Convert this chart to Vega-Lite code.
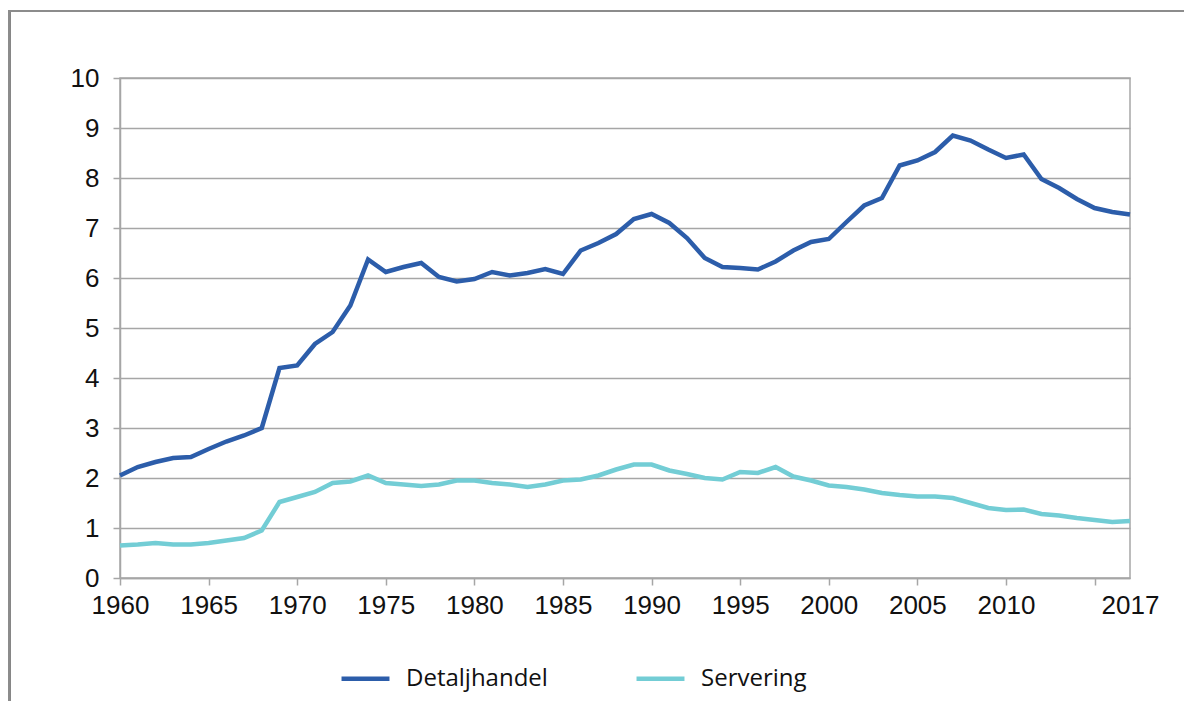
{
  "$schema": "https://vega.github.io/schema/vega-lite/v6.json",
  "width": 1010,
  "height": 500,
  "autosize": {"type": "none"},
  "padding": {"left": 120, "top": 78, "right": 54, "bottom": 123},
  "background": "white",
  "config": {
    "view": {"stroke": "#A6A6A6", "strokeWidth": 1.5}
  },
  "data": {"values": [
    {"year":1960,"series":"Detaljhandel","value":2.05},{"year":1961,"series":"Detaljhandel","value":2.22},{"year":1962,"series":"Detaljhandel","value":2.32},{"year":1963,"series":"Detaljhandel","value":2.4},{"year":1964,"series":"Detaljhandel","value":2.42},{"year":1965,"series":"Detaljhandel","value":2.58},{"year":1966,"series":"Detaljhandel","value":2.73},{"year":1967,"series":"Detaljhandel","value":2.85},{"year":1968,"series":"Detaljhandel","value":3.0},{"year":1969,"series":"Detaljhandel","value":4.2},
    {"year":1970,"series":"Detaljhandel","value":4.25},{"year":1971,"series":"Detaljhandel","value":4.68},{"year":1972,"series":"Detaljhandel","value":4.92},{"year":1973,"series":"Detaljhandel","value":5.45},{"year":1974,"series":"Detaljhandel","value":6.37},{"year":1975,"series":"Detaljhandel","value":6.12},{"year":1976,"series":"Detaljhandel","value":6.22},{"year":1977,"series":"Detaljhandel","value":6.3},{"year":1978,"series":"Detaljhandel","value":6.02},{"year":1979,"series":"Detaljhandel","value":5.93},
    {"year":1980,"series":"Detaljhandel","value":5.98},{"year":1981,"series":"Detaljhandel","value":6.12},{"year":1982,"series":"Detaljhandel","value":6.05},{"year":1983,"series":"Detaljhandel","value":6.1},{"year":1984,"series":"Detaljhandel","value":6.18},{"year":1985,"series":"Detaljhandel","value":6.08},{"year":1986,"series":"Detaljhandel","value":6.55},{"year":1987,"series":"Detaljhandel","value":6.7},{"year":1988,"series":"Detaljhandel","value":6.88},{"year":1989,"series":"Detaljhandel","value":7.18},
    {"year":1990,"series":"Detaljhandel","value":7.28},{"year":1991,"series":"Detaljhandel","value":7.1},{"year":1992,"series":"Detaljhandel","value":6.8},{"year":1993,"series":"Detaljhandel","value":6.4},{"year":1994,"series":"Detaljhandel","value":6.22},{"year":1995,"series":"Detaljhandel","value":6.2},{"year":1996,"series":"Detaljhandel","value":6.17},{"year":1997,"series":"Detaljhandel","value":6.33},{"year":1998,"series":"Detaljhandel","value":6.55},{"year":1999,"series":"Detaljhandel","value":6.72},
    {"year":2000,"series":"Detaljhandel","value":6.78},{"year":2001,"series":"Detaljhandel","value":7.12},{"year":2002,"series":"Detaljhandel","value":7.45},{"year":2003,"series":"Detaljhandel","value":7.6},{"year":2004,"series":"Detaljhandel","value":8.25},{"year":2005,"series":"Detaljhandel","value":8.35},{"year":2006,"series":"Detaljhandel","value":8.52},{"year":2007,"series":"Detaljhandel","value":8.85},{"year":2008,"series":"Detaljhandel","value":8.75},{"year":2009,"series":"Detaljhandel","value":8.57},
    {"year":2010,"series":"Detaljhandel","value":8.4},{"year":2011,"series":"Detaljhandel","value":8.47},{"year":2012,"series":"Detaljhandel","value":7.98},{"year":2013,"series":"Detaljhandel","value":7.8},{"year":2014,"series":"Detaljhandel","value":7.58},{"year":2015,"series":"Detaljhandel","value":7.4},{"year":2016,"series":"Detaljhandel","value":7.32},{"year":2017,"series":"Detaljhandel","value":7.27},
    {"year":1960,"series":"Servering","value":0.65},{"year":1961,"series":"Servering","value":0.67},{"year":1962,"series":"Servering","value":0.7},{"year":1963,"series":"Servering","value":0.67},{"year":1964,"series":"Servering","value":0.67},{"year":1965,"series":"Servering","value":0.7},{"year":1966,"series":"Servering","value":0.75},{"year":1967,"series":"Servering","value":0.8},{"year":1968,"series":"Servering","value":0.95},{"year":1969,"series":"Servering","value":1.52},
    {"year":1970,"series":"Servering","value":1.62},{"year":1971,"series":"Servering","value":1.72},{"year":1972,"series":"Servering","value":1.9},{"year":1973,"series":"Servering","value":1.93},{"year":1974,"series":"Servering","value":2.05},{"year":1975,"series":"Servering","value":1.9},{"year":1976,"series":"Servering","value":1.87},{"year":1977,"series":"Servering","value":1.84},{"year":1978,"series":"Servering","value":1.87},{"year":1979,"series":"Servering","value":1.95},
    {"year":1980,"series":"Servering","value":1.95},{"year":1981,"series":"Servering","value":1.9},{"year":1982,"series":"Servering","value":1.87},{"year":1983,"series":"Servering","value":1.82},{"year":1984,"series":"Servering","value":1.87},{"year":1985,"series":"Servering","value":1.95},{"year":1986,"series":"Servering","value":1.97},{"year":1987,"series":"Servering","value":2.05},{"year":1988,"series":"Servering","value":2.17},{"year":1989,"series":"Servering","value":2.27},
    {"year":1990,"series":"Servering","value":2.27},{"year":1991,"series":"Servering","value":2.15},{"year":1992,"series":"Servering","value":2.08},{"year":1993,"series":"Servering","value":2.0},{"year":1994,"series":"Servering","value":1.97},{"year":1995,"series":"Servering","value":2.12},{"year":1996,"series":"Servering","value":2.1},{"year":1997,"series":"Servering","value":2.22},{"year":1998,"series":"Servering","value":2.03},{"year":1999,"series":"Servering","value":1.95},
    {"year":2000,"series":"Servering","value":1.85},{"year":2001,"series":"Servering","value":1.82},{"year":2002,"series":"Servering","value":1.77},{"year":2003,"series":"Servering","value":1.7},{"year":2004,"series":"Servering","value":1.66},{"year":2005,"series":"Servering","value":1.63},{"year":2006,"series":"Servering","value":1.63},{"year":2007,"series":"Servering","value":1.6},{"year":2008,"series":"Servering","value":1.5},{"year":2009,"series":"Servering","value":1.4},
    {"year":2010,"series":"Servering","value":1.36},{"year":2011,"series":"Servering","value":1.37},{"year":2012,"series":"Servering","value":1.28},{"year":2013,"series":"Servering","value":1.25},{"year":2014,"series":"Servering","value":1.2},{"year":2015,"series":"Servering","value":1.16},{"year":2016,"series":"Servering","value":1.12},{"year":2017,"series":"Servering","value":1.14}
  ]},
  "layer": [
    {
      "mark": {"type": "rect", "fill": null, "stroke": "#8C8C8C", "strokeWidth": 2, "clip": false},
      "encoding": {
        "x": {"datum": 1953.74, "type": "quantitative"},
        "x2": {"datum": 2030},
        "y": {"datum": 11.34, "type": "quantitative"},
        "y2": {"datum": -5}
      }
    },
    {
      "mark": {"type": "line", "strokeWidth": 4.5, "interpolate": "linear"},
      "encoding": {
        "x": {"field": "year", "type": "quantitative",
          "scale": {"domain": [1960, 2017], "nice": false, "zero": false},
          "axis": {"title": null, "grid": false,
            "values": [1960, 1965, 1970, 1975, 1980, 1985, 1990, 1995, 2000, 2005, 2010, 2015, 2017],
            "labelExpr": "datum.value == 2015 ? '' : format(datum.value, 'd')",
            "labelFont": "Liberation Sans", "labelFontSize": 26, "labelColor": "#111111",
            "domainColor": "#A6A6A6", "domainWidth": 1.5, "tickColor": "#A6A6A6", "tickWidth": 1.5, "tickSize": 7,
            "labelPadding": 7, "labelOverlap": false, "labelFlush": false,
            "tickOpacity": {"condition": {"test": "datum.value == 2017", "value": 0}, "value": 1}}},
        "y": {"field": "value", "type": "quantitative",
          "scale": {"domain": [0, 10], "nice": false},
          "axis": {"title": null, "values": [0,1,2,3,4,5,6,7,8,9,10], "format": "d",
            "labelFont": "Liberation Sans", "labelFontSize": 26, "labelColor": "#111111",
            "domainColor": "#A6A6A6", "domainWidth": 1.5, "tickColor": "#A6A6A6", "tickWidth": 1.5, "tickSize": 7,
            "gridColor": "#A6A6A6", "gridWidth": 1.5, "gridOpacity": 1,
            "labelPadding": 14, "grid": true}},
        "color": {"field": "series", "type": "nominal",
          "scale": {"domain": ["Detaljhandel", "Servering"], "range": ["#2C5DAA", "#73CDD5"]},
          "legend": {"title": null, "orient": "none", "direction": "horizontal", "legendX": 219, "legendY": 574,
            "symbolType": "stroke", "symbolSize": 2300, "symbolStrokeWidth": 4.5,
            "labelFont": "Open Sans", "labelFontSize": 24, "labelColor": "#111111", "labelOffset": 14,
            "columnPadding": 79, "labelLimit": 300}}
      }
    }
  ]
}
